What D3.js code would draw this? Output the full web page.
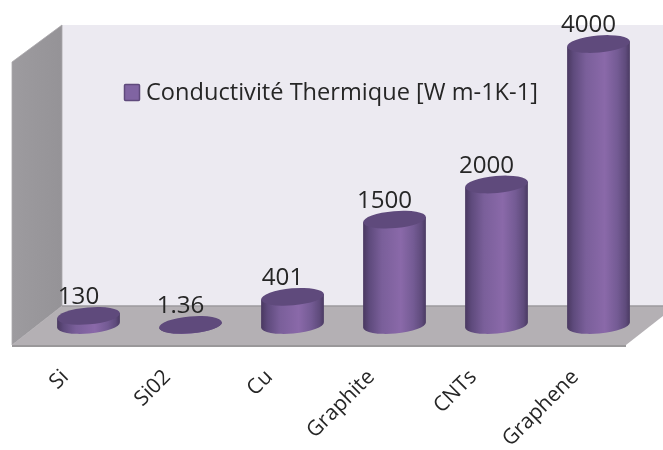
<!DOCTYPE html>
<html><head><meta charset="utf-8">
<script src="https://cdn.jsdelivr.net/npm/d3@7"></script>
<style>html,body{margin:0;padding:0;background:#fff}svg{display:block;filter:blur(0.45px)}text{font-family:"Open Sans",sans-serif;fill:#262626}</style>
</head><body><svg id="c" width="663" height="450"></svg>
<script>
const categories = ["Si","Si02","Cu","Graphite","CNTs","Graphene"];
const values = [130,1.36,401,1500,2000,4000];
const valueLabels = ["130","1.36","401","1500","2000","4000"];
const seriesName = "Conductivité Thermique [W m-1K-1]";

const svg = d3.select("#c");
const x = d3.scaleBand().domain(categories).range([37.5,649.5]).paddingInner(39/102).paddingOuter(19.5/102);
const y = d3.scaleLinear().domain([0,4000]).range([325,44]);
const line = d3.line();

const defs = svg.append("defs");
const grad = defs.append("linearGradient").attr("id","cyl");
[[0,"#493860"],[0.1,"#5e4a7c"],[0.3,"#7a5f9a"],[0.6,"#8a69a9"],[0.8,"#745b94"],[0.93,"#5f4b7c"],[1,"#4a3a62"]]
  .forEach(s=>grad.append("stop").attr("offset",s[0]).attr("stop-color",s[1]));
const wallG = defs.append("linearGradient").attr("id","wall");
wallG.append("stop").attr("offset",0).attr("stop-color","#9d9b9f");
wallG.append("stop").attr("offset",1).attr("stop-color","#959397");

// walls and floor
svg.append("path").attr("d",line([[62,25],[663,25],[663,306],[62,306]])+"Z").attr("fill","#eceaf1");
svg.append("path").attr("d",line([[12,62],[62,25],[62,306],[12,345]])+"Z").attr("fill","url(#wall)").attr("stroke","#a9a7ab").attr("stroke-width",0.8);
svg.append("path").attr("d",line([[62,306],[663,306],[663,316],[626,345],[12,345]])+"Z").attr("fill","#b4b0b4");
svg.append("path").attr("d",line([[62,306],[663,306]])).attr("stroke","#9d9a9e").attr("stroke-width",1.5).attr("fill","none");
svg.append("path").attr("d",line([[12,346],[626,346]])).attr("stroke","#9a989a").attr("stroke-width",2).attr("fill","none");

// cylinders
const R = x.bandwidth()/2, ry = 8.5, tilt = -5, a = tilt*Math.PI/180;
const dx = R*Math.cos(a), dy = R*Math.sin(a);
const g = svg.append("g").selectAll("g").data(categories).join("g")
  .attr("transform",d=>`translate(${x(d)+R},0)`);
g.append("path").attr("fill","url(#cyl)").attr("d",(d,i)=>{
  const t=y(values[i]), b=y(0);
  return `M${-dx},${t-dy}L${dx},${t+dy}L${dx},${b+dy}A${R},${ry} ${tilt} 0 1 ${-dx},${b-dy}Z`;
});
g.append("ellipse").attr("rx",R).attr("ry",ry).attr("cy",(d,i)=>y(values[i]))
  .attr("transform",(d,i)=>`rotate(${tilt} 0 ${y(values[i])})`).attr("fill","#5f4a7c");
g.append("text").attr("text-anchor","middle").attr("font-size",23)
  .attr("transform",(d,i)=>`translate(-10,${y(values[i])-12}) scale(1.05,1)`)
  .text((d,i)=>valueLabels[i]);

// category axis
const axis = svg.append("g").attr("transform","translate(0,345)").call(d3.axisBottom(x).tickSize(0));
axis.select(".domain").remove();
axis.selectAll("text").attr("font-size",21).attr("text-anchor","end").attr("dy",0).attr("y",0)
  .attr("transform","translate(-19,33) rotate(-45)").style("fill","#262626").style("font-family",'"Open Sans",sans-serif');

// legend
svg.append("rect").attr("x",124.5).attr("y",84.5).attr("width",15).attr("height",16).attr("rx",1)
  .attr("fill","#8064a2").attr("stroke","#5f4a7c").attr("stroke-width",1.5);
svg.append("text").attr("font-size",23).attr("transform","translate(146,100) scale(1.026,1)").text(seriesName);
</script></body></html>
